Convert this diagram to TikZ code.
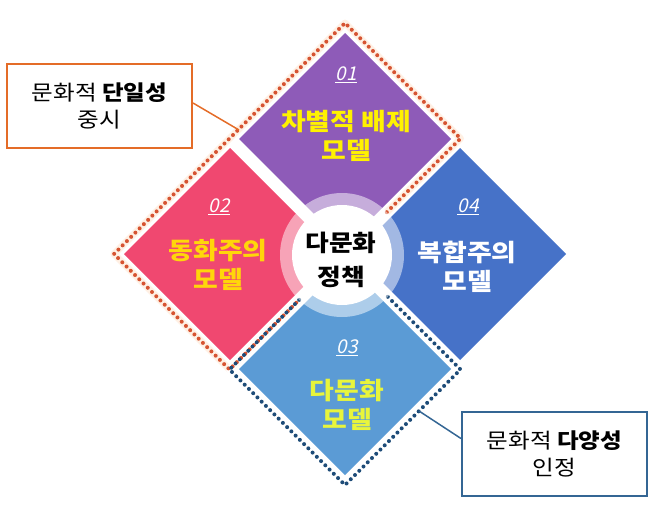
\documentclass[tikz,border=0pt]{standalone}
\usepackage{fontspec}
\setmainfont{Noto Sans CJK KR}
\newfontfamily\numfont[FakeSlant=0.22]{Noto Sans CJK KR}
\newfontfamily\widefont[FakeStretch=1.12]{Noto Sans CJK KR}
\definecolor{tilePurple}{RGB}{142,91,184}
\definecolor{tilePink}{RGB}{240,72,112}
\definecolor{tileNavy}{RGB}{70,114,200}
\definecolor{tileBlue}{RGB}{91,155,213}
\definecolor{yelA}{RGB}{255,242,0}
\definecolor{yelB}{RGB}{255,214,10}
\definecolor{yelC}{RGB}{232,245,60}
\definecolor{boxOrange}{RGB}{228,108,40}
\definecolor{dotOrange}{RGB}{214,84,50}
\definecolor{dotBlue}{RGB}{30,76,120}
\definecolor{boxBlue}{RGB}{52,102,148}
\definecolor{haloPeach}{RGB}{255,240,228}
\begin{document}
\begin{tikzpicture}[x=1pt,y=-1pt,
  tilelabel/.style={font=\widefont\fontsize{24}{29}\selectfont\bfseries, align=center, inner sep=0pt},
  numlabel/.style={font=\fontsize{19}{22}\selectfont\numfont, text=white, inner sep=0pt},
  infobox/.style={draw, line width=2pt, fill=white, minimum width=185pt, minimum height=84pt,
     align=center, font=\widefont\fontsize{21}{27}\selectfont, inner sep=0pt},
  dotline/.style={line width=4pt, dash pattern=on 0pt off 6pt, line cap=round, line join=round},
  halo/.style={line width=7pt, line join=round, haloPeach}]
\useasboundingbox (0,0) rectangle (650,506);
% tiles
\fill[tilePurple] (345,33) -- (451,139) -- (345,245) -- (239,139) -- cycle;
\fill[tilePink] (230,148) -- (336,254) -- (230,360) -- (124,254) -- cycle;
\fill[tileNavy] (460,148) -- (566,254) -- (460,360) -- (354,254) -- cycle;
\fill[tileBlue] (345,263) -- (451,369) -- (345,475) -- (239,369) -- cycle;
% dotted frames
\draw[halo] (386.8,212.2) -- (460.5,138.5) -- (345,23) -- (114,254) -- (229.5,369.5) -- (299.2,299.8);
\draw[halo, white] (387.8,296.8) -- (460.5,369.5) -- (345,485) -- (229.5,369.5) -- (299.2,299.8);
\draw[dotline, dotOrange] (386.8,212.2) -- (460.5,138.5) -- (345,23) -- (114,254) -- (229.5,369.5) -- (299.2,299.8);
\draw[dotline, dotBlue] (387.8,296.8) -- (460.5,369.5) -- (345,485) -- (229.5,369.5) -- (299.2,299.8);
% centre ring and circle
\fill[white, opacity=0.5] (342,255) circle[radius=62pt];
\fill[white] (342,255) circle[radius=50pt];
% labels
\node[numlabel] (n1) at (346,75) {\underline{01}};
\node[tilelabel, text=yelA] (t1) at (346,136) {차별적 배제\\모델};
\node[numlabel] (n2) at (219,207) {\underline{02}};
\node[tilelabel, text=yelB] (t2) at (218,265) {동화주의\\모델};
\node[numlabel] (n4) at (468,207) {\underline{04}};
\node[tilelabel, text=white] (t4) at (467,267) {복합주의\\모델};
\node[numlabel] (n3) at (347,348) {\underline{03}};
\node[tilelabel, text=yelC] (t3) at (347,405) {다문화\\모델};
\node[font=\widefont\fontsize{23}{34}\selectfont\bfseries, align=center, inner sep=0pt] (c) at (341,260) {다문화\\정책};
% info boxes
\node[infobox, draw=boxOrange] (ob) at (99.5,106) {문화적 \textbf{단일성}\\중시};
\node[infobox, draw=boxBlue] (bb) at (554.5,453.5) {문화적 \textbf{다양성}\\인정};
\coordinate (oa) at (239,130);
\coordinate (ba) at (419,411);
\draw[boxOrange, line width=1.5pt] ([yshift=3pt]ob.east) -- (oa);
\draw[boxBlue, line width=1.5pt] ([yshift=15pt]bb.west) -- (ba);
\end{tikzpicture}
\end{document}
